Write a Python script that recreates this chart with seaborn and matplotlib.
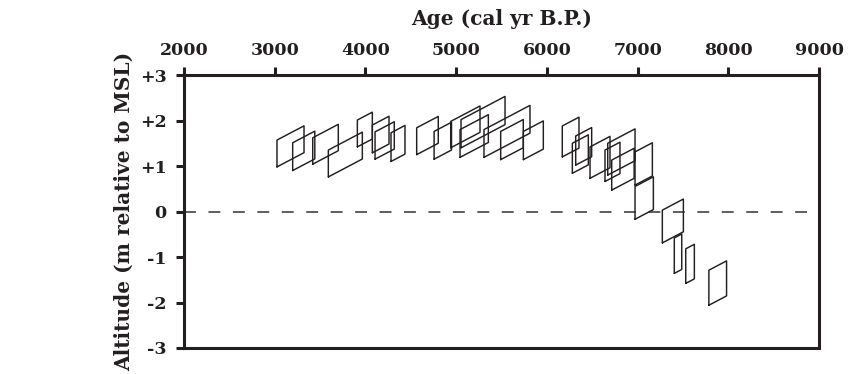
import numpy as np
import pandas as pd
import matplotlib
matplotlib.use("Agg")
import matplotlib.pyplot as plt
import seaborn as sns

# Age ranges (cal yr B.P.) and altitude ranges (m, at the younger edge) of each index point
age_min = [3025, 3198, 3419, 3591, 3911, 4076, 4106, 4282,
           4565, 4757, 4940, 5043, 5054, 5307, 5491, 5741,
           6170, 6318, 6281, 6476, 6641, 6671, 6715, 6972, 6972, 7273, 7405, 7531, 7786]
age_max = [3323, 3442, 3701, 3966, 4076, 4260, 4318, 4436,
           4803, 4949, 5263, 5355, 5539, 5814, 5740, 5961,
           6354, 6494, 6457, 6696, 6806, 6972, 6962, 7163, 7174, 7505, 7487, 7626, 7981]
alt_min = [0.98, 0.90, 1.04, 0.76, 1.42, 1.29, 1.15, 1.10,
           1.25, 1.15, 1.40, 1.19, 1.40, 1.19, 1.14, 1.14,
           1.20, 1.02, 0.84, 0.73, 0.66, 0.80, 0.47, 0.58, -0.17, -0.69, -1.36, -1.58, -2.06]
alt_max = [1.57, 1.51, 1.62, 1.35, 2.01, 1.90, 1.75, 1.73,
           1.84, 1.76, 1.98, 1.80, 2.02, 1.80, 1.76, 1.76,
           1.88, 1.66, 1.50, 1.42, 1.35, 1.50, 1.13, 1.31, 0.55, 0.03, -0.58, -0.82, -1.29]
shear = 1.05e-3  # m of altitude shift per year across each box

x_ticks = [2000, 3000, 4000, 5000, 6000, 7000, 8000, 9000]
y_ticks = [-3, -2, -1, 0, 1, 2, 3]
y_tick_labels = ["-3", "-2", "-1", "0", "+1", "+2", "+3"]

# Build polygon vertex table
rows = []
for i, (a0, a1, z0, z1) in enumerate(zip(age_min, age_max, alt_min, alt_max)):
    d = shear * (a1 - a0)
    verts = [(a0, z0), (a1, z0 + d), (a1, z1 + d), (a0, z1), (a0, z0)]
    for k, (a, z) in enumerate(verts):
        rows.append({"box": i, "order": k, "age": a, "alt": z})
df = pd.DataFrame(rows)

ink = "#231f20"
sns.set_theme(style="ticks")
plt.rcParams["font.family"] = ["DejaVu Serif"]
plt.rcParams["font.weight"] = "bold"
plt.rcParams["text.color"] = ink
plt.rcParams["xtick.color"] = ink
plt.rcParams["ytick.color"] = ink

fig = plt.figure(figsize=(8.55, 3.74), dpi=100)
ax = fig.add_axes([184/855, 1-348/374, (819-184)/855, (348-75)/374])

sns.lineplot(data=df, x="age", y="alt", units="box", estimator=None, sort=False,
             color=ink, linewidth=1.05, ax=ax, legend=False)

ax.axhline(0, color="#333333", linewidth=1.1, linestyle=(0, (7.8, 8.2)), zorder=0)

ax.set_xlim(2000, 9000)
ax.set_ylim(-3, 3)
ax.xaxis.tick_top()
ax.xaxis.set_label_position("top")
ax.set_xticks(x_ticks)
ax.set_xticklabels([str(t) for t in x_ticks], fontsize=12.5, fontweight="bold", color=ink)
ax.set_yticks(y_ticks)
ax.set_yticklabels(y_tick_labels, fontsize=12.5, fontweight="bold", color=ink)
ax.set_xlabel("Age (cal yr B.P.)", fontsize=14.5, fontweight="bold", labelpad=12, color=ink)
ax.set_ylabel("Altitude (m relative to MSL)", fontsize=14.5, fontweight="bold", labelpad=4, color=ink)

for s in ["top", "bottom", "left", "right"]:
    ax.spines[s].set_linewidth(2.2)
    ax.spines[s].set_color(ink)
ax.tick_params(axis="both", length=5.5, width=2.2, color=ink)
ax.tick_params(axis="x", pad=6)
ax.tick_params(axis="y", pad=7)

fig.savefig("out.png", dpi=100)
